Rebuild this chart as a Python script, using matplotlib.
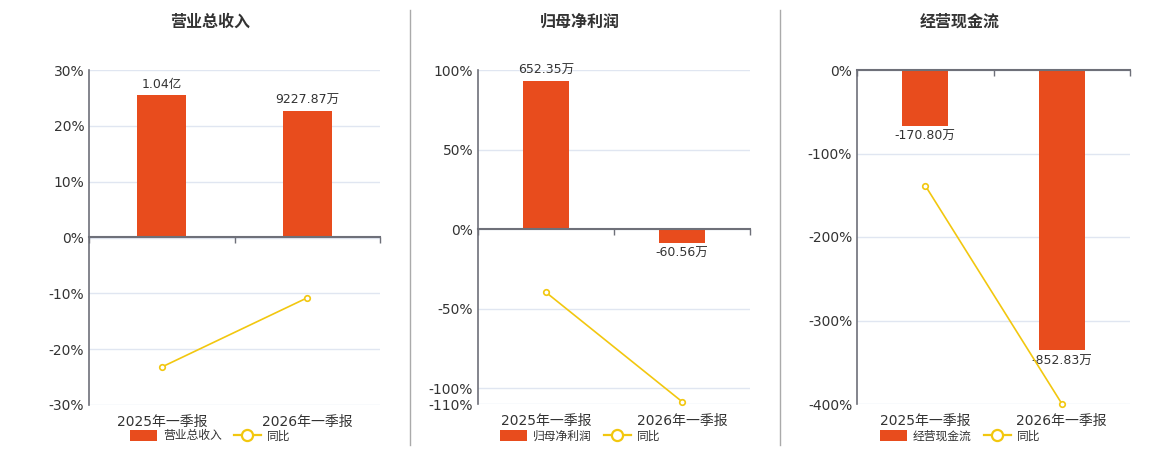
import matplotlib
matplotlib.use("Agg")
import matplotlib.pyplot as plt
from matplotlib.lines import Line2D
from matplotlib.patches import Patch

plt.rcParams["font.family"] = ["DejaVu Sans", "Noto Sans CJK SC"]

categories = ["2025年一季报", "2026年一季报"]

titles = ["营业总收入", "归母净利润", "经营现金流"]
bar_names = ["营业总收入", "归母净利润", "经营现金流"]

# bar values in 万元
revenue = [10400.0, 9227.87]
net_profit = [652.35, -60.56]
cash_flow = [-170.80, -852.83]

bar_labels = [
    ["1.04亿", "9227.87万"],
    ["652.35万", "-60.56万"],
    ["-170.80万", "-852.83万"],
]

# year-over-year change, %
revenue_yoy = [-23.2, -10.8]
profit_yoy = [-39.8, -108.5]
cash_yoy = [-138.4, -399.5]

pct_ticks = [
    [-30, -20, -10, 0, 10, 20, 30],
    [-110, -100, -50, 0, 50, 100],
    [-400, -300, -200, -100, 0],
]
pct_lims = [(-30, 30), (-110, 100), (-400, 0)]
# hidden bar axis ranges, aligned with the percent axis at zero
bar_lims = [(-12240, 12240), (-769, 699), (-1016, 0)]

BAR_COLOR = "#E84C1D"
LINE_COLOR = "#F2C70F"
AXIS_COLOR = "#6E7079"
GRID_COLOR = "#E0E6F1"
TEXT_COLOR = "#333333"

W, H = 1160, 450
fig = plt.figure(figsize=(W / 100, H / 100), dpi=100)

# pixel boxes: left, right, top, bottom
boxes = [(89, 380, 70, 405), (478, 750, 70, 404), (857, 1130, 70, 404)]
centers = [210, 580, 960]


def rect(l, r, t, b):
    return [l / W, 1 - b / H, (r - l) / W, (b - t) / H]


bars_all = [revenue, net_profit, cash_flow]
yoy_all = [revenue_yoy, profit_yoy, cash_yoy]
x = [0, 1]

for i in range(3):
    pos = rect(*boxes[i])
    ax = fig.add_axes(pos, zorder=0)
    bax = fig.add_axes(pos, zorder=1)
    lax = fig.add_axes(pos, zorder=2)

    ax.set_xlim(-0.5, 1.5)
    ax.set_ylim(*pct_lims[i])
    ax.set_yticks(pct_ticks[i])
    ax.set_yticklabels([f"{t}%" for t in pct_ticks[i]])
    ax.set_xticks(x)
    ax.set_xticklabels(categories)
    ax.tick_params(axis="both", length=0, labelsize=10, colors=TEXT_COLOR)
    ax.tick_params(axis="x", pad=7)
    ax.grid(axis="y", color=GRID_COLOR, linewidth=1)
    for s in ["top", "right", "bottom"]:
        ax.spines[s].set_visible(False)
    ax.spines["left"].set_color(AXIS_COLOR)
    ax.spines["left"].set_linewidth(1.2)

    for a in (bax, lax):
        a.patch.set_visible(False)
        a.set_xlim(-0.5, 1.5)
        a.set_xticks([])
        a.set_yticks([])
        for s in a.spines.values():
            s.set_visible(False)

    bax.set_ylim(*bar_lims[i])
    bars = bax.bar(x, bars_all[i], width=0.34, color=BAR_COLOR)
    bax.bar_label(bars, labels=bar_labels[i], padding=3, fontsize=9,
                  color=TEXT_COLOR)

    lax.set_ylim(*pct_lims[i])
    lax.plot(x, yoy_all[i], color=LINE_COLOR, linewidth=1.2, marker="o",
             markersize=4, markerfacecolor="white", markeredgewidth=1.2,
             clip_on=False)

    # zero line with category boundary ticks
    lo, hi = pct_lims[i]
    zero_frac = (0 - lo) / (hi - lo)
    sec = lax.secondary_xaxis(zero_frac)
    sec.set_xticks([-0.5, 0.5, 1.5])
    sec.set_xticklabels([])
    sec.tick_params(length=4, width=1, color=AXIS_COLOR, direction="in")
    for s in sec.spines.values():
        s.set_color(AXIS_COLOR)
        s.set_linewidth(1.5)

    fig.text(centers[i] / W, 1 - 22 / H, titles[i], ha="center", va="center",
             fontsize=11.5, fontweight="bold", color=TEXT_COLOR)

    handles = [
        Patch(facecolor=BAR_COLOR, label=bar_names[i]),
        Line2D([], [], color=LINE_COLOR, linewidth=1.6, marker="o",
               markersize=8, markerfacecolor="white", markeredgewidth=1.6,
               label="同比"),
    ]
    fig.legend(handles=handles, loc="center", ncol=2,
               bbox_to_anchor=(centers[i] / W, 1 - 436 / H), frameon=False,
               fontsize=8.5, handlelength=2.3, handleheight=1.1,
               columnspacing=1.0, handletextpad=0.5, labelcolor=TEXT_COLOR)

# panel separators
for xs in (410, 780):
    fig.add_artist(Line2D([xs / W, xs / W], [1 - 445 / H, 1 - 10 / H],
                          color="#AAAAAA", linewidth=1))

fig.savefig("out.png", dpi=100, facecolor="white")
